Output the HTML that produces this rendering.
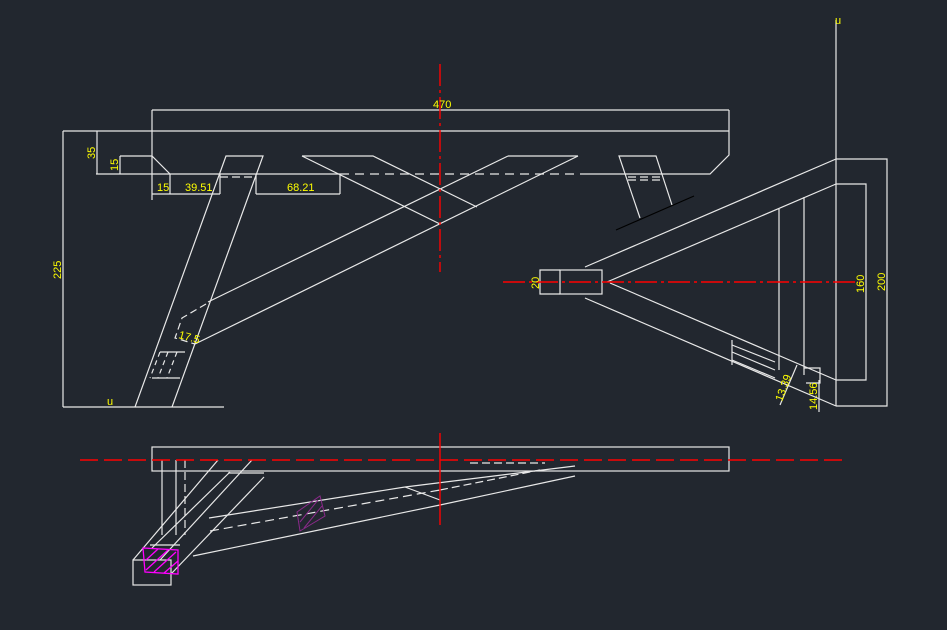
<!DOCTYPE html>
<html><head><meta charset="utf-8"><style>
html,body{margin:0;padding:0;background:#22272f;}
svg{display:block}
text{font-family:"Liberation Sans",sans-serif;fill:#ffff00;font-size:11px}
</style></head><body>
<svg width="947" height="630" viewBox="0 0 947 630" xmlns="http://www.w3.org/2000/svg">
<rect width="947" height="630" fill="#22272f"/>
<g stroke="#e8e8e8" stroke-width="1.2" fill="none">
<line x1="152" y1="110" x2="729" y2="110"/>
<line x1="152" y1="110" x2="152" y2="200"/>
<line x1="729" y1="110" x2="729" y2="131"/>
<line x1="63" y1="131" x2="729" y2="131"/>
<polyline points="729,131 729,155 710,174 580,174"/>
<line x1="96" y1="174" x2="340" y2="174"/>
<line x1="340" y1="174" x2="580" y2="174" stroke-dasharray="9,6"/>
<polyline points="120,156 152,156 170,174"/>
<line x1="97" y1="131" x2="97" y2="174"/>
<line x1="120" y1="156" x2="120" y2="174"/>
<line x1="63" y1="131" x2="63" y2="407"/>
<line x1="63" y1="407" x2="224" y2="407"/>
<line x1="152" y1="194" x2="220" y2="194"/>
<line x1="256" y1="194" x2="340" y2="194"/>
<line x1="170" y1="174" x2="170" y2="194"/>
<line x1="220" y1="174" x2="220" y2="194"/>
<line x1="256" y1="174" x2="256" y2="194"/>
<line x1="340" y1="174" x2="340" y2="194"/>
<polyline points="135,407 226,156 263,156 172,407"/>
<line x1="220" y1="177" x2="256" y2="177" stroke-dasharray="8,4"/>
<line x1="208" y1="302" x2="508" y2="156"/>
<line x1="195" y1="344" x2="578" y2="156"/>
<line x1="508" y1="156" x2="578" y2="156"/>
<polyline points="302,156 373,156 477,207"/>
<line x1="302" y1="156" x2="440" y2="224"/>
<polyline points="206,304 182,318 175,338 195,344" stroke-dasharray="7,4"/>
<line x1="160" y1="352" x2="185" y2="352"/>
<line x1="152" y1="378" x2="180" y2="378"/>
<line x1="160" y1="352" x2="150" y2="378" stroke-dasharray="5,4"/>
<line x1="168" y1="352" x2="158" y2="378" stroke-dasharray="5,4"/>
<line x1="177" y1="352" x2="167" y2="378" stroke-dasharray="5,4"/>
<polyline points="640,218 619,156 656,156 672,205"/>
<line x1="628" y1="177" x2="660" y2="177" stroke-dasharray="8,4"/>
<line x1="628" y1="180" x2="662" y2="180" stroke-dasharray="8,4"/>
<line x1="836" y1="20" x2="836" y2="406"/>
<polyline points="836,159 887,159 887,406 836,406"/>
<polyline points="836,184 866,184 866,380 836,380"/>
<line x1="585" y1="267" x2="836" y2="159"/>
<line x1="607" y1="282" x2="836" y2="184"/>
<line x1="610" y1="283" x2="836" y2="380"/>
<line x1="585" y1="298" x2="836" y2="406"/>
<rect x="560" y="270" width="42" height="24"/>
<polyline points="560,270 540,270 540,294 560,294"/>
<line x1="779" y1="209" x2="779" y2="370"/>
<line x1="804" y1="197" x2="804" y2="375"/>
<polyline points="732,340 732,365"/>
<line x1="732" y1="345" x2="775" y2="362"/>
<line x1="732" y1="352" x2="775" y2="370"/>
<line x1="732" y1="360" x2="775" y2="378"/>
<polyline points="804,368 820,368 820,383 806,383"/>
<line x1="780" y1="405" x2="797" y2="365"/>
<line x1="819" y1="380" x2="819" y2="412"/>
<rect x="152" y="447" width="577" height="24"/>
<line x1="162" y1="460" x2="162" y2="535"/>
<line x1="176" y1="460" x2="176" y2="535"/>
<line x1="185" y1="460" x2="185" y2="535" stroke-dasharray="8,4"/>
<line x1="150" y1="545" x2="180" y2="545"/>
<line x1="133" y1="560" x2="218" y2="460"/>
<line x1="152" y1="548" x2="230" y2="472"/>
<line x1="160" y1="560" x2="252" y2="460"/>
<line x1="171" y1="574" x2="264" y2="477"/>
<line x1="228" y1="473" x2="264" y2="473"/>
<line x1="209" y1="518" x2="405" y2="487"/>
<line x1="405" y1="487" x2="575" y2="466"/>
<line x1="210" y1="531" x2="440" y2="490" stroke-dasharray="9,5"/>
<line x1="193" y1="556" x2="440" y2="505"/>
<line x1="440" y1="505" x2="575" y2="476"/>
<line x1="405" y1="487" x2="440" y2="500"/>
<line x1="470" y1="463" x2="545" y2="463" stroke-dasharray="8,4"/>
<line x1="440" y1="490" x2="540" y2="470" stroke-dasharray="8,4"/>
<rect x="133" y="560" width="38" height="25"/>
</g>
<line x1="616" y1="230" x2="694" y2="196" stroke="#000" stroke-width="1.2"/>
<g stroke="#ff00ff" fill="none" stroke-width="1.3">
<polygon points="143,548 178,550 178,574 145,572"/>
<path d="M146,560 L158,549 M146,570 L168,550 M154,572 L176,552 M164,573 L178,561"/>
</g>
<g stroke="#8a2a8a" fill="none" stroke-width="1">
<polygon points="297,512 320,496 325,516 300,531"/>
<path d="M300,522 L318,500 M304,528 L322,506"/>
</g>
<g stroke="#ff0000" stroke-width="1.4" fill="none">
<line x1="440" y1="64" x2="440" y2="272" stroke-dasharray="22,4,3,4"/>
<line x1="503" y1="282" x2="860" y2="282" stroke-dasharray="22,4,3,4"/>
<line x1="80" y1="460" x2="848" y2="460" stroke-dasharray="18,6"/>
<line x1="440" y1="433" x2="440" y2="525"/>
</g>
<text x="433" y="108">470</text>
<text x="157" y="191">15</text>
<text x="185" y="191">39.51</text>
<text x="287" y="191">68.21</text>
<text x="178" y="338" transform="rotate(15 178 338)">17.5</text>
<text transform="translate(95,159) rotate(-90)">35</text>
<text transform="translate(118,171) rotate(-90)">15</text>
<text transform="translate(61,279) rotate(-90)">225</text>
<text transform="translate(539,289) rotate(-90)">20</text>
<text transform="translate(864,293) rotate(-90)">160</text>
<text transform="translate(885,291) rotate(-90)">200</text>
<text transform="translate(782,402) rotate(-70)">13.39</text>
<text transform="translate(817,410) rotate(-90)">14.56</text>
<text x="835" y="24" font-size="6">u</text>
<text x="107" y="405" font-size="6">u</text>
</svg>
</body></html>
